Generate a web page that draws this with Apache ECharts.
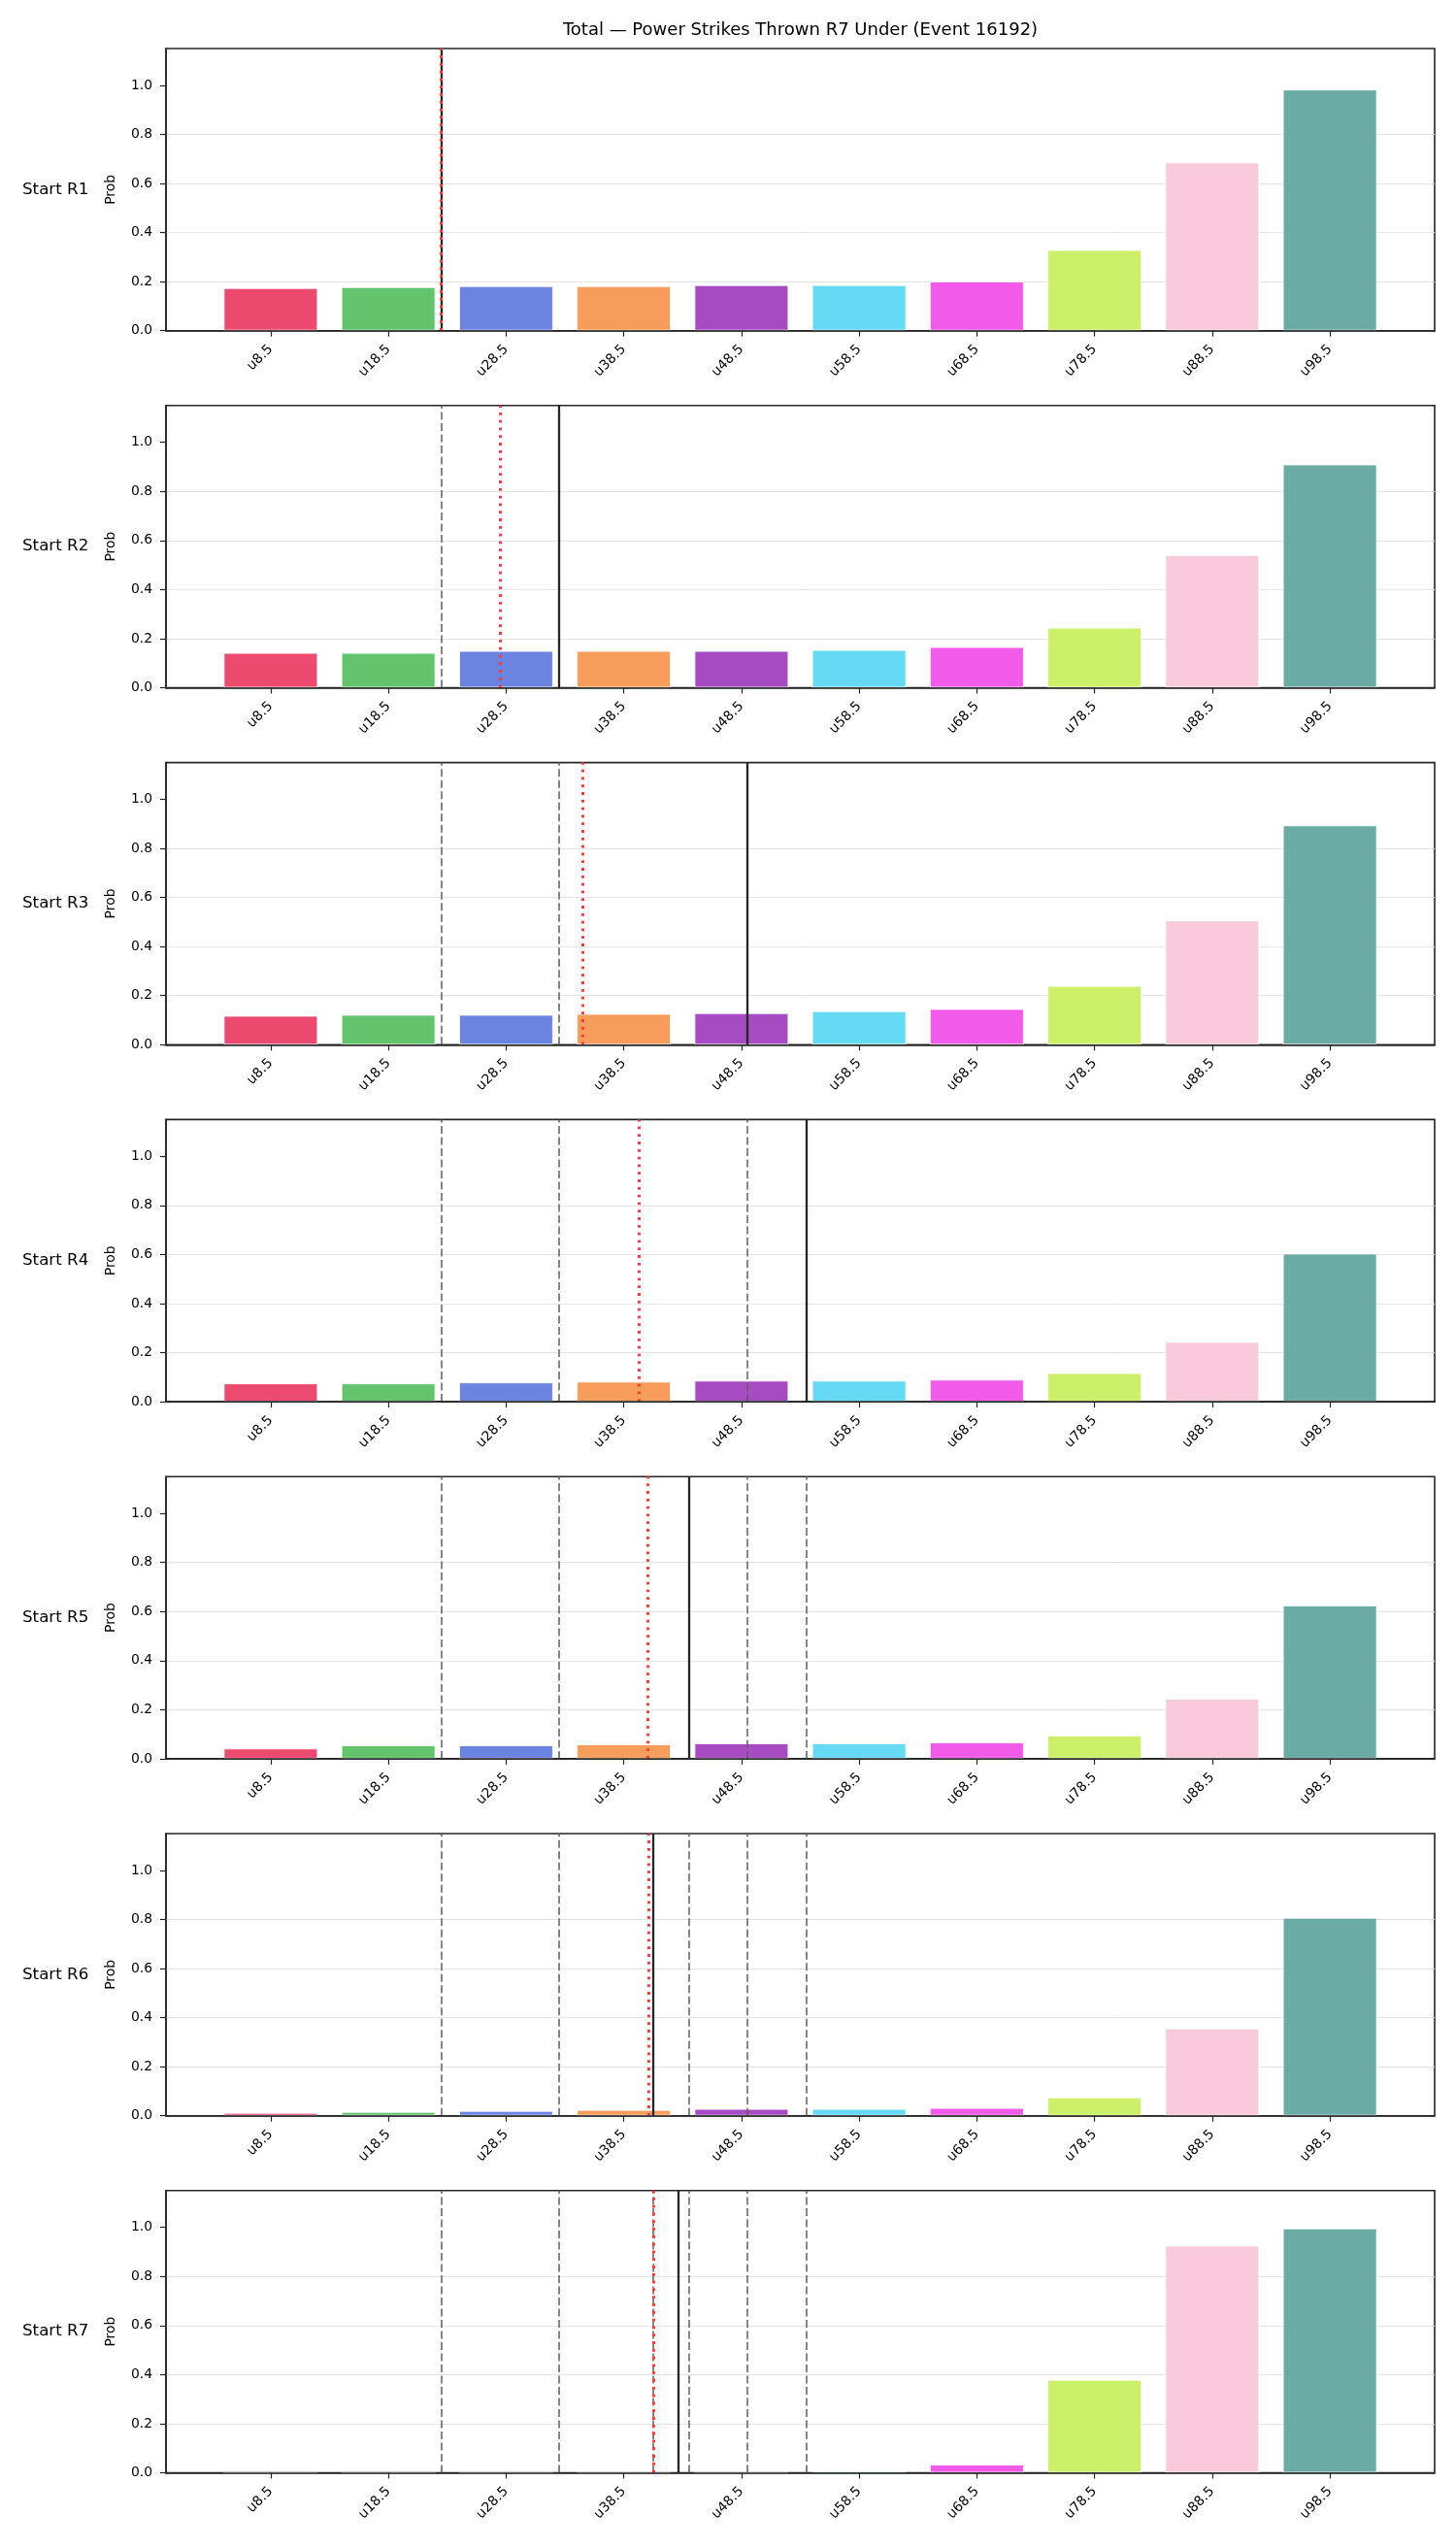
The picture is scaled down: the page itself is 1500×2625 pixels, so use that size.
<!DOCTYPE html>
<html>
<head>
<meta charset="utf-8">
<script src="https://cdn.jsdelivr.net/npm/echarts@6/dist/echarts.min.js"></script>
<style>
  html, body { margin: 0; padding: 0; background: #fff; }
  #chart { width: 1500px; height: 2625px; }
</style>
</head>
<body>
<div id="chart"></div>
<script>
// ---------------- DATA ----------------
const chartTitle = 'Total \u2014 Power Strikes Thrown R7 Under (Event 16192)';
const categories = ['u8.5', 'u18.5', 'u28.5', 'u38.5', 'u48.5', 'u58.5', 'u68.5', 'u78.5', 'u88.5', 'u98.5'];
const rowLabels = ['Start R1', 'Start R2', 'Start R3', 'Start R4', 'Start R5', 'Start R6', 'Start R7'];
const yTicks = [0.0, 0.2, 0.4, 0.6, 0.8, 1.0];

const probR1 = [0.174, 0.178, 0.182, 0.182, 0.186, 0.186, 0.201, 0.329, 0.686, 0.983];
const probR2 = [0.142, 0.142, 0.150, 0.150, 0.150, 0.154, 0.166, 0.245, 0.540, 0.910];
const probR3 = [0.118, 0.122, 0.122, 0.126, 0.129, 0.137, 0.146, 0.240, 0.507, 0.894];
const probR4 = [0.075, 0.075, 0.079, 0.082, 0.086, 0.086, 0.090, 0.117, 0.244, 0.604];
const probR5 = [0.042, 0.055, 0.055, 0.059, 0.063, 0.063, 0.067, 0.095, 0.245, 0.625];
const probR6 = [0.012, 0.016, 0.020, 0.024, 0.028, 0.028, 0.032, 0.075, 0.356, 0.807];
const probR7 = [0.000, 0.000, 0.001, 0.002, 0.002, 0.007, 0.034, 0.379, 0.926, 0.996];
const probRows = [probR1, probR2, probR3, probR4, probR5, probR6, probR7];

// current strike position per start round (solid black line)
const currentLine = [23.0, 33.0, 49.0, 54.0, 44.0, 41.0, 43.1];
// projected total per start round (red dotted line)
const projectedLine = [23.0, 28.0, 35.0, 39.8, 40.5, 40.6, 41.0];

// ---------------- STYLE / LAYOUT ----------------
const barColors = ['#EC4A6F', '#64C46E', '#6B84E0', '#F79D5C', '#A64BC2',
                   '#66DAF5', '#F25BE9', '#CCF06A', '#F9CADB', '#6BABA5'];
const FONT = 'DejaVu Sans';
const GRID_LEFT = 171, GRID_RIGHT = 22, TOP0 = 50, ROW_STEP = 367.8, ROW_H = 290.7;
const GRID_W = 1500 - GRID_LEFT - GRID_RIGHT;
const X_MIN = -0.4, X_MAX = 107.4, Y_MAX = 1.15;
const BAR_UNITS = 8;
const barWidthPx = GRID_W * BAR_UNITS / (X_MAX - X_MIN);
const SPINE = '#262626';

const catValues = categories.map(c => parseFloat(c.slice(1)));

const grids = [], xAxes = [], yAxes = [], series = [], graphics = [];

graphics.push({
  type: 'text', x: (GRID_LEFT + 1500 - GRID_RIGHT) / 2, y: 31,
  style: { text: chartTitle, fontFamily: FONT, fontSize: 18, fill: '#000', align: 'center', verticalAlign: 'middle' }
});

probRows.forEach((vals, i) => {
  const top = TOP0 + i * ROW_STEP;
  grids.push({ left: GRID_LEFT, width: GRID_W, top: top, height: ROW_H,
               show: true, borderColor: SPINE, borderWidth: 1.6, backgroundColor: 'transparent' });
  xAxes.push({
    type: 'value', gridIndex: i, min: X_MIN, max: X_MAX, z: 5,
    axisLine: { show: true, onZero: false, lineStyle: { color: SPINE, width: 1.6 } },
    axisTick: { show: true, length: 6, customValues: catValues, lineStyle: { color: SPINE, width: 1.2 } },
    axisLabel: { show: true, customValues: catValues, rotate: 45, margin: 17,
                 formatter: v => categories[catValues.indexOf(v)] || ('u' + v),
                 fontFamily: FONT, fontSize: 13.9, color: '#000' },
    splitLine: { show: false }
  });
  yAxes.push({
    type: 'value', gridIndex: i, min: 0, max: Y_MAX, interval: 0.2, z: 0,
    name: 'Prob', nameLocation: 'middle', nameRotate: 90, nameGap: 50,
    nameTextStyle: { fontFamily: FONT, fontSize: 13.9, color: '#000' },
    axisLine: { show: true, onZero: false, lineStyle: { color: SPINE, width: 1.6 } },
    axisTick: { show: true, length: 6, customValues: yTicks, lineStyle: { color: SPINE, width: 1.2 } },
    axisLabel: { show: true, customValues: yTicks, margin: 14,
                 formatter: v => v.toFixed(1), fontFamily: FONT, fontSize: 13.9, color: '#000' },
    splitLine: { show: true, showMaxLine: false, showMinLine: false, lineStyle: { color: '#e6e6e6', width: 1 } }
  });

  const mlData = [];
  currentLine.slice(0, i).forEach(v => mlData.push({
    xAxis: v, lineStyle: { color: '#5f5f5f', width: 1.5, type: [8, 3.5] }
  }));
  mlData.push({ xAxis: currentLine[i], lineStyle: { color: '#262626', width: 2.3, type: 'solid' } });
  mlData.push({ xAxis: projectedLine[i], lineStyle: { color: '#ff3b3b', width: 3, type: [2.8, 5] } });

  series.push({
    type: 'bar', xAxisIndex: i, yAxisIndex: i, barWidth: barWidthPx, z: 2,
    data: vals.map((v, k) => ({ value: [catValues[k], v],
      itemStyle: { color: barColors[k], borderColor: 'rgba(255,255,255,0.8)', borderWidth: 1 } })),
    silent: true, animation: false,
    markLine: { silent: true, symbol: ['none', 'none'], label: { show: false }, animation: false,
                data: mlData }
  });

  graphics.push({
    type: 'text', x: 23, y: top + ROW_H / 2,
    style: { text: rowLabels[i], fontFamily: FONT, fontSize: 16.7, fill: '#000', align: 'left', verticalAlign: 'middle' }
  });
});

const chart = echarts.init(document.getElementById('chart'), null, { renderer: 'canvas' });
chart.setOption({
  backgroundColor: '#fff',
  animation: false,
  grid: grids, xAxis: xAxes, yAxis: yAxes, series: series, graphic: graphics
});
</script>
</body>
</html>
